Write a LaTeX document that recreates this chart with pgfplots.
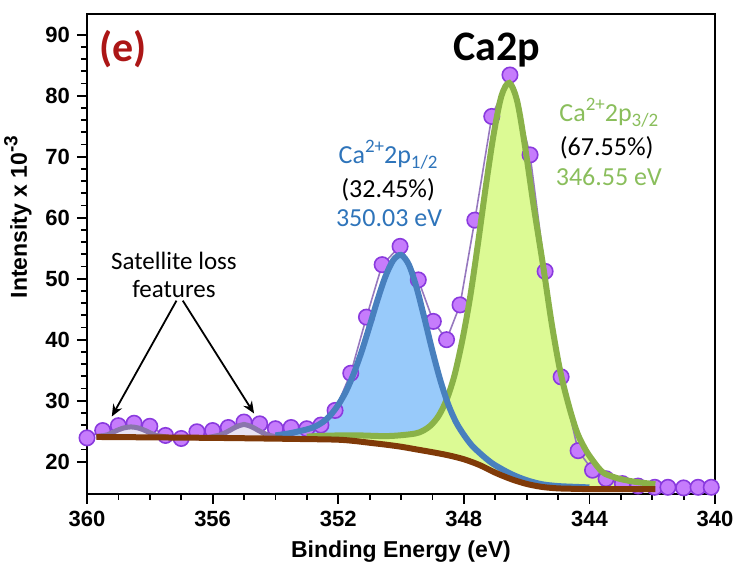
\documentclass[border=0pt]{standalone}
\usepackage{fontspec}
\setmainfont{Carlito}
\newfontfamily\lsans{Liberation Sans}
\usepackage{pgfplots}
\usepackage{pgfplotstable}
\pgfplotsset{compat=1.18}
\usepgfplotslibrary{fillbetween}
\usetikzlibrary{arrows.meta}
\definecolor{ptfill}{RGB}{198,124,252}
\definecolor{ptedge}{RGB}{138,58,222}
\definecolor{ptline}{RGB}{150,120,190}
\definecolor{satline}{RGB}{138,118,172}
\definecolor{satfill}{RGB}{232,226,242}
\definecolor{bluefill}{RGB}{152,202,250}
\definecolor{blueline}{RGB}{72,128,190}
\definecolor{greenfill}{RGB}{220,250,148}
\definecolor{greenline}{RGB}{138,178,72}
\definecolor{brownline}{RGB}{128,58,8}
\definecolor{darkred}{RGB}{172,22,22}
\definecolor{bluetxt}{RGB}{46,116,186}
\definecolor{greentxt}{RGB}{138,190,92}
\newcommand{\up}[1]{\raisebox{0.42em}{\fontsize{9.5}{10}\selectfont #1}}
\newcommand{\dn}[1]{\raisebox{-0.22em}{\fontsize{9.5}{10}\selectfont #1}}

\pgfplotstableread{
x y
360.0 23.9
359.5 25.1
359.0 25.9
358.5 26.3
358.0 25.8
357.5 24.3
357.0 23.8
356.5 24.9
356.0 25.1
355.5 25.6
355.0 26.5
354.5 26.2
354.0 25.4
353.5 25.6
353.0 25.4
352.55 26.0
352.1 28.4
351.6 34.5
351.1 43.7
350.6 52.3
350.03 55.3
349.45 49.8
348.97 43.0
348.55 40.0
348.12 45.7
347.65 59.6
347.11 76.6
346.53 83.4
345.89 70.3
345.41 51.2
344.9 33.9
344.36 21.8
343.9 18.6
343.47 17.2
342.95 16.4
342.45 16.0
341.92 15.8
341.5 15.8
341.0 15.7
340.54 15.8
340.12 15.8
}\datatab

\pgfplotstableread{
x y
341.9 15.5
343.0 15.5
344.0 15.5
344.5 15.55
345.0 15.62
345.5 15.85
346.0 16.35
346.5 17.15
347.0 18.2
347.5 19.45
348.0 20.4
348.5 21.05
349.0 21.55
349.5 22.0
350.0 22.45
350.5 22.8
351.0 23.1
351.5 23.4
352.0 23.6
353.0 23.7
356.0 23.9
359.7 24.05
}\bgtab

\pgfplotstableread{
x y
344.0 15.78
344.5 15.88
345.0 16.00
345.5 16.29
346.0 16.96
346.5 17.99
347.0 19.41
347.25 20.34
347.5 21.45
347.75 22.70
348.0 24.41
348.25 26.50
348.5 29.44
348.75 33.38
349.0 38.16
349.25 43.42
349.5 48.46
349.75 52.30
350.0 53.90
350.25 53.01
350.5 50.31
350.75 46.49
351.0 42.24
351.25 38.13
351.5 34.52
351.75 31.54
352.0 29.30
352.25 27.61
352.5 26.45
352.75 25.73
353.0 25.29
353.5 24.70
354.0 24.30
}\bluetab

\pgfplotstableread{
x y
341.9 16.3
342.55 16.7
343.05 17.2
343.5 18.0
343.68 18.8
343.85 19.9
344.10 21.76
344.38 24.64
344.64 28.89
344.93 34.86
345.20 42.63
345.47 51.97
345.78 62.09
346.05 71.65
346.30 79.1
346.55 82.1
346.80 80.0
347.05 73.65
347.30 65.09
347.55 55.72
347.80 46.93
348.05 39.84
348.30 34.11
348.55 30.13
348.80 27.53
349.05 25.96
349.30 25.07
349.55 24.61
350.05 24.31
350.55 24.19
351.55 24.33
352.55 24.23
353.0 24.1
}\greentab

\pgfplotstableread{
x y
357.5 24.05
357.85 24.4
358.1 25.0
358.35 25.5
358.6 25.7
358.85 25.5
359.1 25.0
359.35 24.4
359.7 24.1
}\satA

\pgfplotstableread{
x y
353.9 24.0
354.25 24.4
354.5 25.0
354.75 25.7
355.0 26.1
355.25 25.7
355.5 25.0
355.75 24.4
356.1 24.0
}\satB

\begin{document}
\begin{tikzpicture}
\begin{axis}[
  scale only axis, width=314pt, height=240pt,
  clip=false, clip marker paths=true,
  x dir=reverse, xmin=340, xmax=360, ymin=14.7, ymax=93.4,
  xtick={340,344,348,352,356,360}, ytick={20,30,...,90},
  minor x tick num=3, minor y tick num=4,
  tick align=outside, tick pos=left,
  major tick length=5pt, minor tick length=3pt,
  tick style={black, line width=0.9pt},
  axis line style={black, line width=0.9pt},
  /pgf/number format/assume math mode=true,
  tick label style={font=\lsans\bfseries\fontsize{11}{13}\selectfont},
  xlabel={Binding Energy (eV)},
  ylabel={Intensity x 10\up{-3}},
  label style={font=\lsans\bfseries\fontsize{11.5}{13}\selectfont},
  ylabel style={at={(ticklabel cs:0.577)}},
]
% data
\addplot[draw=ptline, line width=0.8pt, mark=*, mark size=3.85pt,
  mark options={fill=ptfill, draw=ptedge, line width=0.8pt, solid}] table {\datatab};
% satellite features
\addplot[draw=satline, line width=2.5pt, fill=satfill, smooth] table {\satA};
\addplot[draw=satline, line width=2.5pt, fill=satfill, smooth] table {\satB};
% paths
\addplot[draw=none, smooth, name path=bg] table {\bgtab};
\addplot[draw=none, smooth, name path=blue] table {\bluetab};
\addplot[draw=none, smooth, name path=green] table {\greentab};
% fills
\addplot[fill=bluefill, draw=none] fill between[of=blue and bg, soft clip={domain=344:354}];
\addplot[fill=greenfill, draw=none] fill between[of=green and bg, soft clip={domain=341.9:353}];
% lines
\addplot[draw=greenline, line width=3pt, smooth] table {\greentab};
\addplot[draw=blueline, line width=3pt, smooth] table {\bluetab};
\addplot[draw=brownline, line width=3pt, smooth] table {\bgtab};
% annotations
\node[font=\bfseries\fontsize{21}{24}\selectfont, text=darkred] at (358.84,87.7) {(e)};
\node[font=\bfseries\fontsize{21}{24}\selectfont] at (346.94,87.5) {Ca2p};
\node[font=\fontsize{13}{15}\selectfont, text=bluetxt] at (350.41,70.3) {Ca\up{2+}2p\dn{1/2}};
\node[font=\fontsize{13}{15}\selectfont] at (350.41,64.6) {(32.45\%)};
\node[font=\fontsize{13}{15}\selectfont, text=bluetxt] at (350.38,60.0) {350.03 eV};
\node[font=\fontsize{13}{15}\selectfont, text=greentxt] at (343.38,77.2) {Ca\up{2+}2p\dn{3/2}};
\node[font=\fontsize{13}{15}\selectfont] at (343.45,71.5) {(67.55\%)};
\node[font=\fontsize{13}{15}\selectfont, text=greentxt] at (343.38,66.7) {346.55 eV};
\node[align=center, font=\fontsize{12.5}{14}\selectfont] at (357.23,50.6) {Satellite loss\\features};
\draw[-{Stealth[length=6pt,width=5pt]}, line width=0.9pt] (357.15,46.4) -- (359.21,27.4);
\draw[-{Stealth[length=6pt,width=5pt]}, line width=0.9pt] (356.95,46.4) -- (354.68,27.9);
\end{axis}
\pgfresetboundingbox
\path[use as bounding box] ([shift={(-43.5pt,-37pt)}]current axis.south west) rectangle ([shift={(10.5pt,7pt)}]current axis.north east);
\end{tikzpicture}
\end{document}
